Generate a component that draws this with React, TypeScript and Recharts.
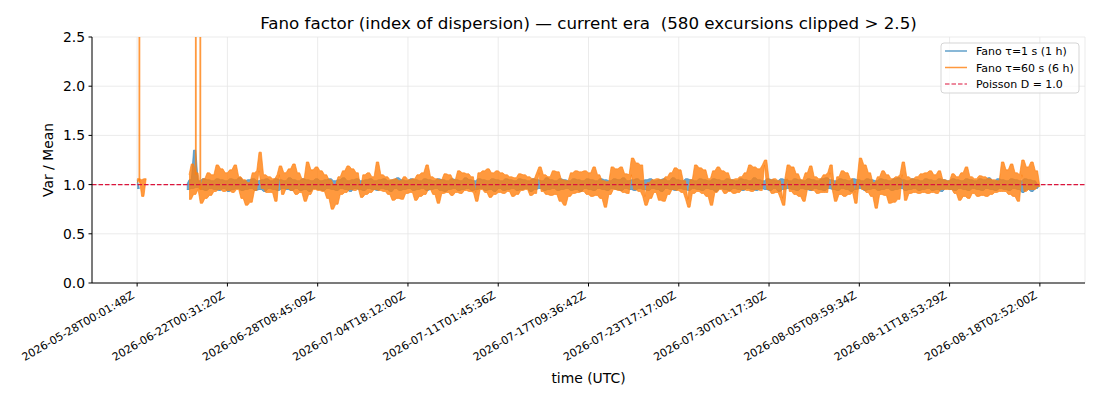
import { Area, CartesianGrid, ComposedChart, ReferenceLine, XAxis, YAxis } from "recharts";

// x positions are sample indices; tick labels are the timestamps at those samples
const xTicks = [0, 40, 80, 120, 160, 200, 240, 280, 320, 360, 400];
const tickLabels = [
    "2026-05-28T00:01:48Z",
    "2026-06-22T00:31:20Z",
    "2026-06-28T08:45:09Z",
    "2026-07-04T18:12:00Z",
    "2026-07-11T01:45:36Z",
    "2026-07-17T09:36:42Z",
    "2026-07-23T17:17:00Z",
    "2026-07-30T01:17:30Z",
    "2026-08-05T09:59:34Z",
    "2026-08-11T18:53:29Z",
    "2026-08-18T02:52:00Z",
];
const yTicks = [0, 0.5, 1, 1.5, 2, 2.5];

// Fano tau=1 s (1 h): short first run at index 0, main run from index 22
const fastEarly = [1.05, 0.96];
const fastMainStart = 22;
const fastMain = [
    1.0, 0.95, 1.05, 0.96, 1.35, 0.97, 1.04, 0.95,
    1.06, 0.94, 1.05, 0.96, 1.04, 0.95, 1.06, 0.94, 1.05, 0.96,
    1.04, 0.93, 1.06, 0.95, 1.05, 0.96, 1.07, 0.94, 1.04, 0.95,
    1.05, 0.96, 1.06, 0.94, 1.04, 0.95, 1.05, 0.93, 1.06, 0.96,
    1.04, 0.95, 1.06, 0.94, 1.05, 0.96, 1.04, 0.95, 1.07, 0.94,
    1.05, 0.96, 1.04, 0.94, 1.06, 0.95, 1.05, 0.93, 1.04, 0.96,
    1.06, 0.95, 1.04, 0.94, 1.05, 0.96, 1.06, 0.95, 1.04, 0.94,
    1.05, 0.96, 1.07, 0.95, 1.04, 0.93, 1.05, 0.96, 1.06, 0.95,
    1.04, 0.94, 1.05, 0.96, 1.06, 0.95, 1.04, 0.94, 1.05, 0.96,
    1.06, 0.95, 1.04, 0.93, 1.05, 0.96, 1.07, 0.94, 1.05, 0.95,
    1.04, 0.96, 1.06, 0.94, 1.05, 0.95, 1.04, 0.96, 1.06, 0.94,
    1.05, 0.95, 1.04, 0.96, 1.06, 0.94, 1.05, 0.93, 1.04, 0.95,
    1.06, 0.96, 1.05, 0.94, 1.04, 0.95, 1.07, 0.96, 1.05, 0.94,
    1.04, 0.95, 1.06, 0.96, 1.05, 0.94, 1.04, 0.95, 1.06, 0.93,
    1.05, 0.96, 1.04, 0.94, 1.06, 0.95, 1.05, 0.96, 1.04, 0.94,
    1.06, 0.95, 1.05, 0.96, 1.04, 0.93, 1.06, 0.95, 1.05, 0.96,
    1.04, 0.94, 1.07, 0.95, 1.05, 0.96, 1.04, 0.94, 1.06, 0.95,
    1.05, 0.96, 1.04, 0.94, 1.06, 0.95, 1.05, 0.93, 1.04, 0.96,
    1.06, 0.95, 1.05, 0.94, 1.04, 0.96, 1.06, 0.95, 1.05, 0.94,
    1.04, 0.96, 1.06, 0.95, 1.05, 0.94, 1.07, 0.96, 1.04, 0.95,
    1.05, 0.94, 1.06, 0.96, 1.04, 0.95, 1.05, 0.94, 1.06, 0.96,
    1.04, 0.95, 1.05, 0.93, 1.06, 0.96, 1.04, 0.95, 1.07, 0.94,
    1.05, 0.96, 1.04, 0.95, 1.06, 0.94, 1.05, 0.96, 1.04, 0.95,
    1.06, 0.94, 1.05, 0.96, 1.04, 0.95, 1.06, 0.93, 1.05, 0.96,
    1.04, 0.95, 1.06, 0.94, 1.05, 0.96, 1.04, 0.95, 1.06, 0.94,
    1.05, 0.96, 1.04, 0.95, 1.07, 0.94, 1.05, 0.96, 1.04, 0.95,
    1.06, 0.94, 1.05, 0.96, 1.04, 0.93, 1.06, 0.95, 1.05, 0.96,
    1.04, 0.95, 1.06, 0.94, 1.05, 0.96, 1.04, 0.95, 1.06, 0.94,
    1.05, 0.96, 1.04, 0.95, 1.06, 0.94, 1.07, 0.96, 1.05, 0.95,
    1.04, 0.94, 1.06, 0.96, 1.05, 0.95, 1.04, 0.93, 1.06, 0.95,
    1.05, 0.96, 1.04, 0.94, 1.06, 0.95, 1.05, 0.96, 1.04, 0.94,
    1.06, 0.95, 1.05, 0.96, 1.04, 0.94, 1.06, 0.95, 1.07, 0.96,
    1.05, 0.94, 1.04, 0.95, 1.06, 0.96, 1.05, 0.94, 1.04, 0.95,
    1.06, 0.96, 1.05, 0.94, 1.04, 0.95, 1.06, 0.93, 1.05, 0.96,
    1.04, 0.95, 1.06, 0.94, 1.05, 0.96, 1.04, 0.95, 1.06, 0.94,
    1.05, 0.96, 1.04, 0.95, 1.06, 0.94, 1.05, 0.96, 1.07, 0.95,
    1.04, 0.94, 1.06, 0.96, 1.05, 0.95, 1.04, 0.94, 1.06, 0.96,
    1.05, 0.95, 1.04, 0.92, 1.06, 0.95, 1.05, 0.93, 1.04, 0.96,
    1.0,
];

// Fano tau=60 s (6 h): short first run at index 0, main run from index 23
const slowEarly = [1.02, 1.06, 1.05, 0.88, 1.06];
const slowMainStart = 23;
const slowMain = [
    1.1, 0.85, 1.21, 0.9, 1.12, 0.95, 0.81,
    1.06, 0.86, 1.12, 0.89, 1.1, 0.93, 1.2, 0.95, 1.16, 0.93,
    1.12, 0.94, 1.15, 0.92, 1.2, 0.95, 1.08, 0.86, 1.05, 0.79,
    1.02, 0.82, 1.12, 0.94, 1.14, 1.33, 0.96, 1.1, 0.92, 1.08,
    0.92, 1.06, 0.83, 1.1, 1.19, 0.9, 1.12, 0.96, 1.16, 0.94,
    1.21, 0.9, 1.12, 0.92, 1.06, 0.83, 1.23, 0.9, 1.15, 0.95,
    1.18, 0.94, 1.14, 0.93, 1.1, 0.86, 1.05, 0.75, 1.0, 0.8,
    1.08, 0.9, 1.14, 0.92, 1.19, 0.95, 1.16, 0.94, 1.12, 0.96,
    0.87, 1.1, 0.9, 1.12, 0.92, 1.08, 0.95, 1.23, 0.94, 1.1,
    0.93, 1.08, 0.9, 1.05, 0.84, 1.06, 0.86, 1.04, 0.85, 1.08,
    0.91, 1.05, 0.92, 1.06, 0.84, 1.1, 0.88, 1.12, 0.9, 1.2,
    0.95, 1.08, 0.9, 1.06, 0.81, 1.05, 0.91, 1.11, 0.92, 1.1,
    0.89, 1.05, 0.92, 1.14, 0.91, 1.12, 0.94, 1.11, 0.93, 1.08,
    0.92, 0.83, 1.12, 0.95, 1.14, 0.92, 1.16, 0.87, 1.12, 0.9,
    1.14, 0.92, 1.12, 0.91, 1.1, 0.93, 1.08, 0.88, 1.07, 0.9,
    1.11, 0.94, 1.1, 0.95, 1.08, 0.89, 1.06, 0.91, 1.12, 1.18,
    0.93, 1.1, 0.9, 1.08, 0.89, 1.14, 0.9, 1.13, 0.83, 1.05,
    0.79, 1.04, 0.88, 1.12, 0.91, 1.14, 0.92, 1.13, 0.93, 1.14,
    0.9, 1.12, 0.88, 1.18, 0.89, 1.1, 0.86, 1.04, 0.77, 1.03,
    0.9, 1.18, 0.95, 1.16, 0.94, 1.18, 0.92, 1.11, 0.91, 1.1,
    1.27, 0.95, 1.22, 0.93, 1.2, 0.88, 0.79, 1.02, 0.86, 1.05,
    0.92, 1.06, 0.84, 1.05, 0.83, 1.08, 0.9, 1.12, 0.95, 1.17,
    0.94, 1.15, 0.92, 1.04, 0.85, 0.77, 1.05, 0.91, 1.2, 0.93,
    1.17, 0.91, 1.15, 0.88, 1.06, 0.79, 1.14, 0.92, 1.18, 0.95,
    1.14, 0.91, 1.12, 0.93, 1.05, 0.91, 1.06, 0.92, 1.08, 0.95,
    1.12, 0.94, 1.2, 0.93, 1.18, 0.95, 1.16, 0.94, 1.2, 1.25,
    0.95, 1.05, 0.91, 1.06, 0.92, 1.04, 0.86, 0.79, 1.06, 1.2,
    0.93, 1.18, 0.9, 1.11, 0.88, 1.05, 0.83, 1.12, 0.95, 1.19,
    0.94, 1.08, 0.91, 1.06, 0.92, 1.1, 0.92, 1.12, 1.2, 0.95,
    0.83, 1.08, 0.9, 1.14, 0.88, 1.12, 0.9, 1.06, 0.92, 0.81,
    1.05, 1.27, 0.95, 1.2, 0.92, 1.12, 0.88, 1.02, 0.76, 1.08,
    0.9, 1.14, 0.89, 1.1, 0.81, 1.06, 0.82, 1.08, 0.85, 1.1,
    1.23, 0.84, 1.08, 0.91, 1.06, 0.92, 1.08, 0.91, 1.11, 0.92,
    1.12, 0.91, 1.14, 0.92, 1.1, 0.91, 1.14, 0.95, 1.05, 0.95,
    1.04, 0.95, 1.11, 0.91, 1.08, 0.84, 1.12, 0.88, 1.18, 0.86,
    1.08, 0.91, 1.06, 0.88, 1.09, 0.89, 1.08, 0.88, 1.06, 0.9,
    1.05, 0.92, 1.04, 0.93, 1.23, 0.93, 1.15, 0.9, 1.21, 0.88,
    1.12, 0.83, 1.1, 1.25, 0.93, 1.18, 0.95, 1.23, 0.95, 1.14, 0.98,
];

// tau=60 s samples that jumped past the 2.5 clip (index, level the jump starts from)
const excursionIdx = [1, 26, 28];
const excursionFrom = [1.02, 1.1, 0.95];
const CLIP = 2.5;

const pick = (early: number[], main: number[], start: number, i: number): number | null => {
    if (i < early.length) return early[i];
    if (i >= start && i - start < main.length) return main[i - start];
    return null;
};

const lastIndex = Math.max(fastMainStart + fastMain.length, slowMainStart + slowMain.length) - 1;
const fastSeries = Array.from({ length: lastIndex + 2 }, (_, i) => pick(fastEarly, fastMain, fastMainStart, i));
const slowSeries = Array.from({ length: lastIndex + 2 }, (_, i) => pick(slowEarly, slowMain, slowMainStart, i));

// the jittery trace between sample i and i+1 spans [min, max] of the two samples
const span = (s: (number | null)[], i: number) => {
    const a = s[i];
    if (a == null) return null;
    const b = s[i + 1];
    if (b == null) return [a, a];
    return [Math.min(a, b), Math.max(a, b)];
};

const data = Array.from({ length: lastIndex + 1 }, (_, i) => ({
    x: i,
    fast: span(fastSeries, i),
    slow: span(slowSeries, i),
}));

const FONT = "DejaVu Sans, sans-serif";
const BLUE = "#1f77b4";
const ORANGE = "#ff7f0e";
const RED = "#dc143c";

const TimeTick = (props: any) => {
    const { x, y, payload } = props;
    const label = tickLabels[xTicks.indexOf(payload.value)] ?? "";
    const px = x - 2;
    const py = y + 11;
    return (
        <text x={px} y={py} textAnchor="end" transform={`rotate(-30 ${px} ${py})`} fontSize={11} fill="#000" fontFamily={FONT}>
            {label}
        </text>
    );
};

const App = () => {
    return (
        <div style={{ position: "absolute", left: 0, top: 0, width: 1100, height: 400, background: "#fff", fontFamily: FONT }}>
            <ComposedChart width={1100} height={400} data={data} margin={{ top: 37, right: 15, bottom: 0, left: 0 }}>
                <CartesianGrid stroke="#e6e6e6" strokeWidth={0.8} />
                <XAxis
                    dataKey="x"
                    type="number"
                    domain={[-20, 420]}
                    ticks={xTicks}
                    allowDataOverflow
                    height={117}
                    interval={0}
                    tick={<TimeTick />}
                    tickSize={3.5}
                    tickMargin={0}
                    stroke="#000"
                    axisLine={{ stroke: "#000", strokeWidth: 1 }}
                    tickLine={{ stroke: "#000", strokeWidth: 1 }}
                />
                <YAxis
                    type="number"
                    domain={[0, 2.5]}
                    ticks={yTicks}
                    allowDataOverflow
                    width={92}
                    interval={0}
                    tickFormatter={(v: number) => v.toFixed(1)}
                    tick={{ fontSize: 13.9, fill: "#000", fontFamily: FONT }}
                    tickSize={3.5}
                    tickMargin={3.5}
                    axisLine={{ stroke: "#000", strokeWidth: 1 }}
                    tickLine={{ stroke: "#000", strokeWidth: 1 }}
                />
                <Area
                    type="linear"
                    dataKey="fast"
                    stroke={BLUE}
                    strokeOpacity={0.7}
                    strokeWidth={0.8}
                    fill={BLUE}
                    fillOpacity={0.65}
                    dot={false}
                    activeDot={false}
                    isAnimationActive={false}
                />
                <Area
                    type="linear"
                    dataKey="slow"
                    stroke={ORANGE}
                    strokeOpacity={0.8}
                    strokeWidth={0.8}
                    fill={ORANGE}
                    fillOpacity={0.8}
                    dot={false}
                    activeDot={false}
                    isAnimationActive={false}
                />
                {excursionIdx.map((k, n) => (
                    <ReferenceLine
                        key={k}
                        segment={[
                            { x: k, y: excursionFrom[n] },
                            { x: k, y: CLIP },
                        ]}
                        stroke={ORANGE}
                        strokeOpacity={0.8}
                        strokeWidth={1.8}
                        ifOverflow="hidden"
                    />
                ))}
                <ReferenceLine y={1} stroke={RED} strokeWidth={1.2} strokeDasharray="4.5 2" ifOverflow="hidden" />
            </ComposedChart>

            <svg width={1100} height={400} style={{ position: "absolute", left: 0, top: 0, pointerEvents: "none" }}>
                <text x={588.5} y={29} textAnchor="middle" fontSize={16.7} fill="#000" fontFamily={FONT} style={{ whiteSpace: "pre" }}>
                    {"Fano factor (index of dispersion) — current era  (580 excursions clipped > 2.5)"}
                </text>
                <text x={53} y={160} textAnchor="middle" transform="rotate(-90 53 160)" fontSize={13.9} fill="#000" fontFamily={FONT}>
                    Var / Mean
                </text>
                <text x={588.5} y={383} textAnchor="middle" fontSize={13.9} fill="#000" fontFamily={FONT}>
                    time (UTC)
                </text>

                <rect x={941} y={43} width={138} height={50} rx={3} fill="#fff" fillOpacity={0.8} stroke="#d5d5d5" strokeWidth={1} />
                <line x1={945} x2={967} y1={51} y2={51} stroke={BLUE} strokeOpacity={0.7} strokeWidth={1.5} />
                <text x={976} y={55} fontSize={11} fill="#000" fontFamily={FONT}>Fano τ=1 s (1 h)</text>
                <line x1={945} x2={967} y1={67.5} y2={67.5} stroke={ORANGE} strokeOpacity={0.8} strokeWidth={1.5} />
                <text x={976} y={71.5} fontSize={11} fill="#000" fontFamily={FONT}>Fano τ=60 s (6 h)</text>
                <line x1={945} x2={967} y1={84} y2={84} stroke={RED} strokeWidth={1.2} strokeDasharray="4.5 2" />
                <text x={976} y={88} fontSize={11} fill="#000" fontFamily={FONT}>Poisson D = 1.0</text>
            </svg>
        </div>
    );
};

export default App;
